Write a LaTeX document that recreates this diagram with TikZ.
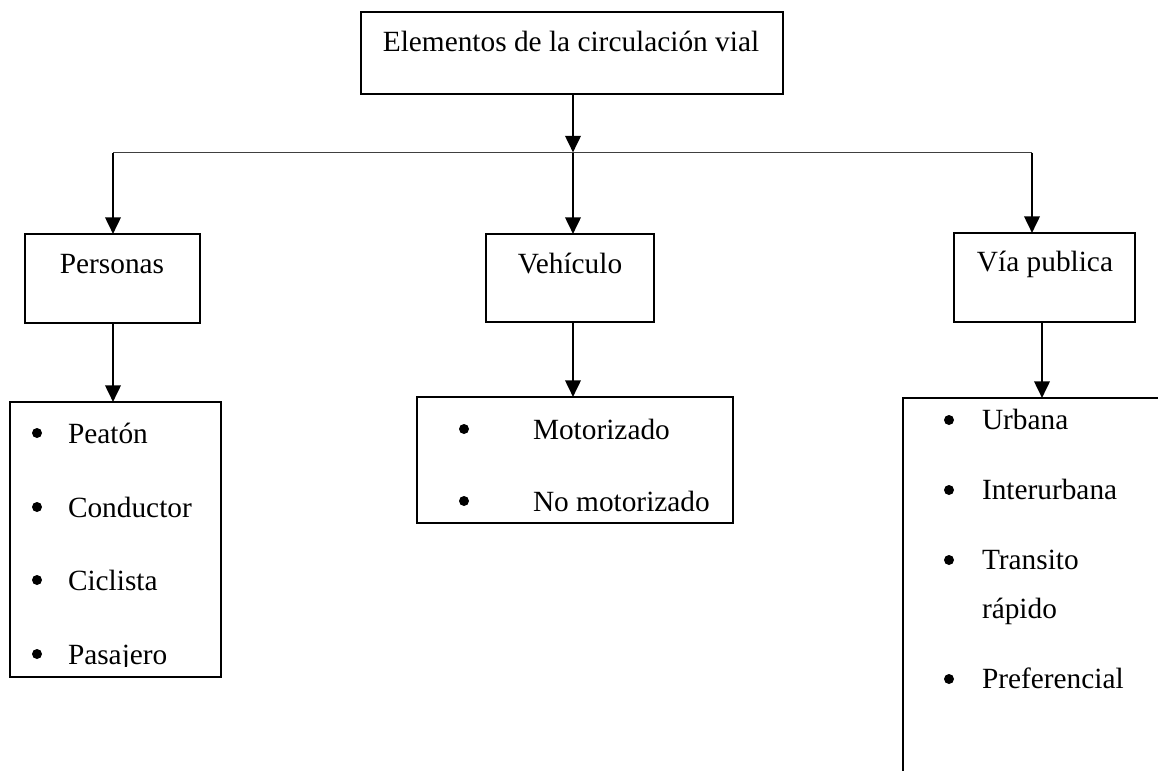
\documentclass[tikz,border=0pt]{standalone}
\usepackage{fontspec}
\setmainfont{Liberation Serif}
\usetikzlibrary{arrows.meta}
\begin{document}
\begin{tikzpicture}[x=0.75pt,y=-0.75pt,
  box/.style={draw, line width=1.9pt, inner sep=0pt, outer sep=0pt},
  txt/.style={inner sep=0pt, outer sep=0pt, font=\fontsize{22}{26}\selectfont},
  bul/.style={circle, fill=black, inner sep=0pt, outer sep=0pt, minimum size=7.5pt},
  arr/.style={line width=2pt, -{Triangle[length=12.5pt,width=11.5pt]}},
  hline/.style={line width=1.1pt, draw=black!75}]
\useasboundingbox (0,0) rectangle (1158,771);
\clip (0,0) rectangle (1158,771);
% boxes
\node[box, minimum width=422*0.75pt, minimum height=82*0.75pt] (top) at (572,53) {};
\node[box, minimum width=175*0.75pt, minimum height=89*0.75pt] (per) at (112.5,278.5) {};
\node[box, minimum width=168*0.75pt, minimum height=88*0.75pt] (veh) at (570,278) {};
\node[box, minimum width=181*0.75pt, minimum height=89*0.75pt] (via) at (1044.5,277.5) {};
\node[box, minimum width=211*0.75pt, minimum height=275*0.75pt] (lp) at (115.5,539.5) {};
\node[box, minimum width=316*0.75pt, minimum height=126*0.75pt] (lv) at (575,460) {};
\node[box, minimum width=277*0.75pt, minimum height=402*0.75pt] (lr) at (1041.5,599) {};
% titles
\node[txt, anchor=base] (ttop) at (571,51) {Elementos de la circulación vial};
\node[txt, anchor=base] (tper) at (112,273) {Personas};
\node[txt, anchor=base] (tveh) at (570,273) {Vehículo};
\node[txt, anchor=base] (tvia) at (1045,271) {Vía publica};
% connectors
\coordinate (j) at (573,152.5);
\coordinate (jl) at (113,152.5);
\coordinate (jr) at (1032,152.5);
\draw[hline] (jl) -- (jr);
\draw[arr] (top.south -| j) -- (j);
\draw[arr] (jl) -- (jl |- per.north);
\draw[arr] (j) -- (j |- veh.north);
\draw[arr] (jr) -- (jr |- via.north);
\coordinate (pd) at (113,323);
\coordinate (vd) at (573,322);
\coordinate (rd) at (1042,322);
\draw[arr] (pd) -- (pd |- lp.north);
\draw[arr] (vd) -- (vd |- lv.north);
\draw[arr] (rd) -- (rd |- lr.north);
% left list
\node[bul] (bp1) at (37,433) {};
\node[txt, anchor=base west] (ip1) at (68,443) {Peatón};
\node[bul] (bp2) at (37,507) {};
\node[txt, anchor=base west] (ip2) at (68,517) {Conductor};
\node[bul] (bp3) at (37,580) {};
\node[txt, anchor=base west] (ip3) at (68,590) {Ciclista};
\node[bul] (bp4) at (37,654) {};
\begin{scope}
\clip (10,600) rectangle (221,666);
\node[txt, anchor=base west] (ip4) at (68,664) {Pasajero};
\end{scope}
% middle list
\node[bul] (bv1) at (464,429) {};
\node[txt, anchor=base west] (iv1) at (533,439) {Motorizado};
\node[bul] (bv2) at (464,501) {};
\node[txt, anchor=base west] (iv2) at (533,511) {No motorizado};
% right list
\node[bul] (br1) at (949,420) {};
\node[txt, anchor=base west] (ir1) at (982,429) {Urbana};
\node[bul] (br2) at (949,490) {};
\node[txt, anchor=base west] (ir2) at (982,499) {Interurbana};
\node[bul] (br3) at (949,560) {};
\node[txt, anchor=base west] (ir3) at (982,569) {Transito};
\node[txt, anchor=base west] (ir3b) at (982,618) {rápido};
\node[bul] (br4) at (949,679) {};
\node[txt, anchor=base west] (ir4) at (982,688) {Preferencial};
\end{tikzpicture}
\end{document}
